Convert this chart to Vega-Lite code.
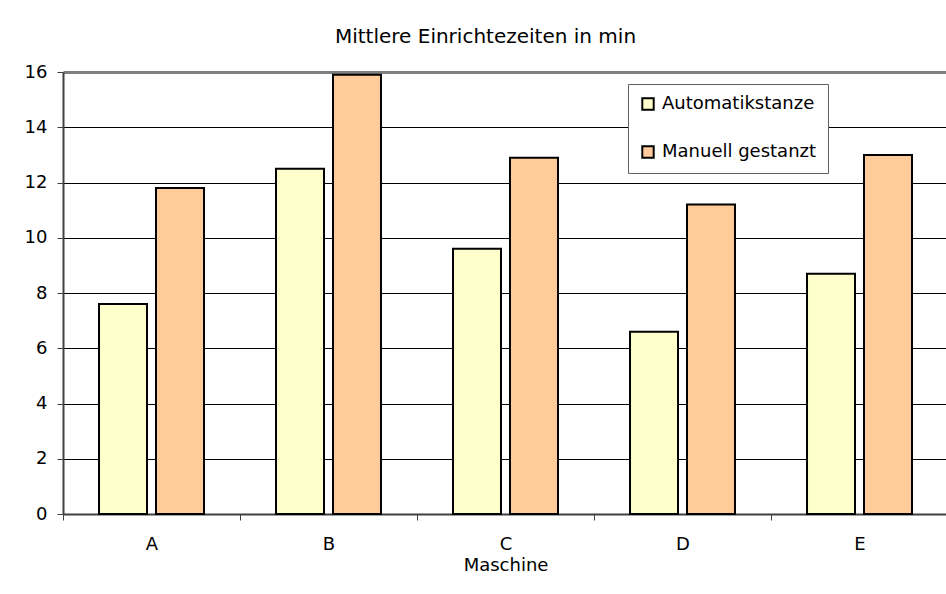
{
  "$schema": "https://vega.github.io/schema/vega-lite/v6.json",
  "width": 885,
  "height": 442,
  "autosize": {"type": "none"},
  "padding": {"left": 63, "top": 72, "right": 0, "bottom": 80},
  "background": "white",
  "title": {
    "text": "Mittlere Einrichtezeiten in min",
    "font": "DejaVu Sans",
    "fontSize": 20,
    "fontWeight": "normal",
    "color": "black",
    "offset": 16,
    "dx": -20
  },
  "data": {
    "values": [
      {"Maschine": "A", "Typ": "Automatikstanze", "Zeit": 7.6},
      {"Maschine": "A", "Typ": "Manuell gestanzt", "Zeit": 11.8},
      {"Maschine": "B", "Typ": "Automatikstanze", "Zeit": 12.5},
      {"Maschine": "B", "Typ": "Manuell gestanzt", "Zeit": 15.9},
      {"Maschine": "C", "Typ": "Automatikstanze", "Zeit": 9.6},
      {"Maschine": "C", "Typ": "Manuell gestanzt", "Zeit": 12.9},
      {"Maschine": "D", "Typ": "Automatikstanze", "Zeit": 6.6},
      {"Maschine": "D", "Typ": "Manuell gestanzt", "Zeit": 11.2},
      {"Maschine": "E", "Typ": "Automatikstanze", "Zeit": 8.7},
      {"Maschine": "E", "Typ": "Manuell gestanzt", "Zeit": 13.0}
    ]
  },
  "mark": {"type": "bar", "stroke": "black", "strokeWidth": 2},
  "encoding": {
    "x": {
      "field": "Maschine",
      "type": "nominal",
      "scale": {"paddingInner": 0, "paddingOuter": 0},
      "axis": {
        "title": "Maschine",
        "labelAngle": 0,
        "tickBand": "extent",
        "tickSize": 6,
        "tickColor": "#404040",
        "domainColor": "#404040",
        "domainWidth": 2,
        "labelPadding": 15,
        "titlePadding": 3,
        "grid": false
      }
    },
    "xOffset": {
      "field": "Typ",
      "type": "nominal",
      "scale": {"paddingInner": 0.158, "paddingOuter": 0.632}
    },
    "y": {
      "field": "Zeit",
      "type": "quantitative",
      "scale": {"domain": [0, 16], "nice": false},
      "axis": {
        "title": null,
        "values": [0, 2, 4, 6, 8, 10, 12, 14, 16],
        "tickSize": 6,
        "tickColor": "#404040",
        "domainColor": "#404040",
        "domainWidth": 2,
        "labelPadding": 10,
        "grid": true,
        "gridColor": {"condition": {"test": "datum.value == 16", "value": "#808080"}, "value": "black"},
        "gridWidth": {"condition": {"test": "datum.value == 16", "value": 3}, "value": 1},
        "gridOpacity": 1
      }
    },
    "color": {
      "field": "Typ",
      "type": "nominal",
      "scale": {"domain": ["Automatikstanze", "Manuell gestanzt"], "range": ["#FFFFCC", "#FFCC99"]},
      "legend": {
        "title": null,
        "orient": "none",
        "legendX": 565,
        "legendY": 12,
        "symbolType": "square",
        "symbolSize": 130,
        "symbolStrokeColor": "black",
        "symbolStrokeWidth": 2,
        "symbolOpacity": 1,
        "labelFontSize": 18,
        "labelFont": "DejaVu Sans",
        "labelColor": "black",
        "labelOffset": 5,
        "labelLimit": 300,
        "rowPadding": 28,
        "padding": 11,
        "strokeColor": "#606060",
        "fillColor": "white"
      }
    }
  },
  "config": {
    "view": {"stroke": null},
    "axis": {
      "labelFont": "DejaVu Sans",
      "labelFontSize": 18,
      "labelColor": "black",
      "titleFont": "DejaVu Sans",
      "titleFontSize": 18,
      "titleFontWeight": "normal",
      "titleColor": "black"
    }
  }
}
